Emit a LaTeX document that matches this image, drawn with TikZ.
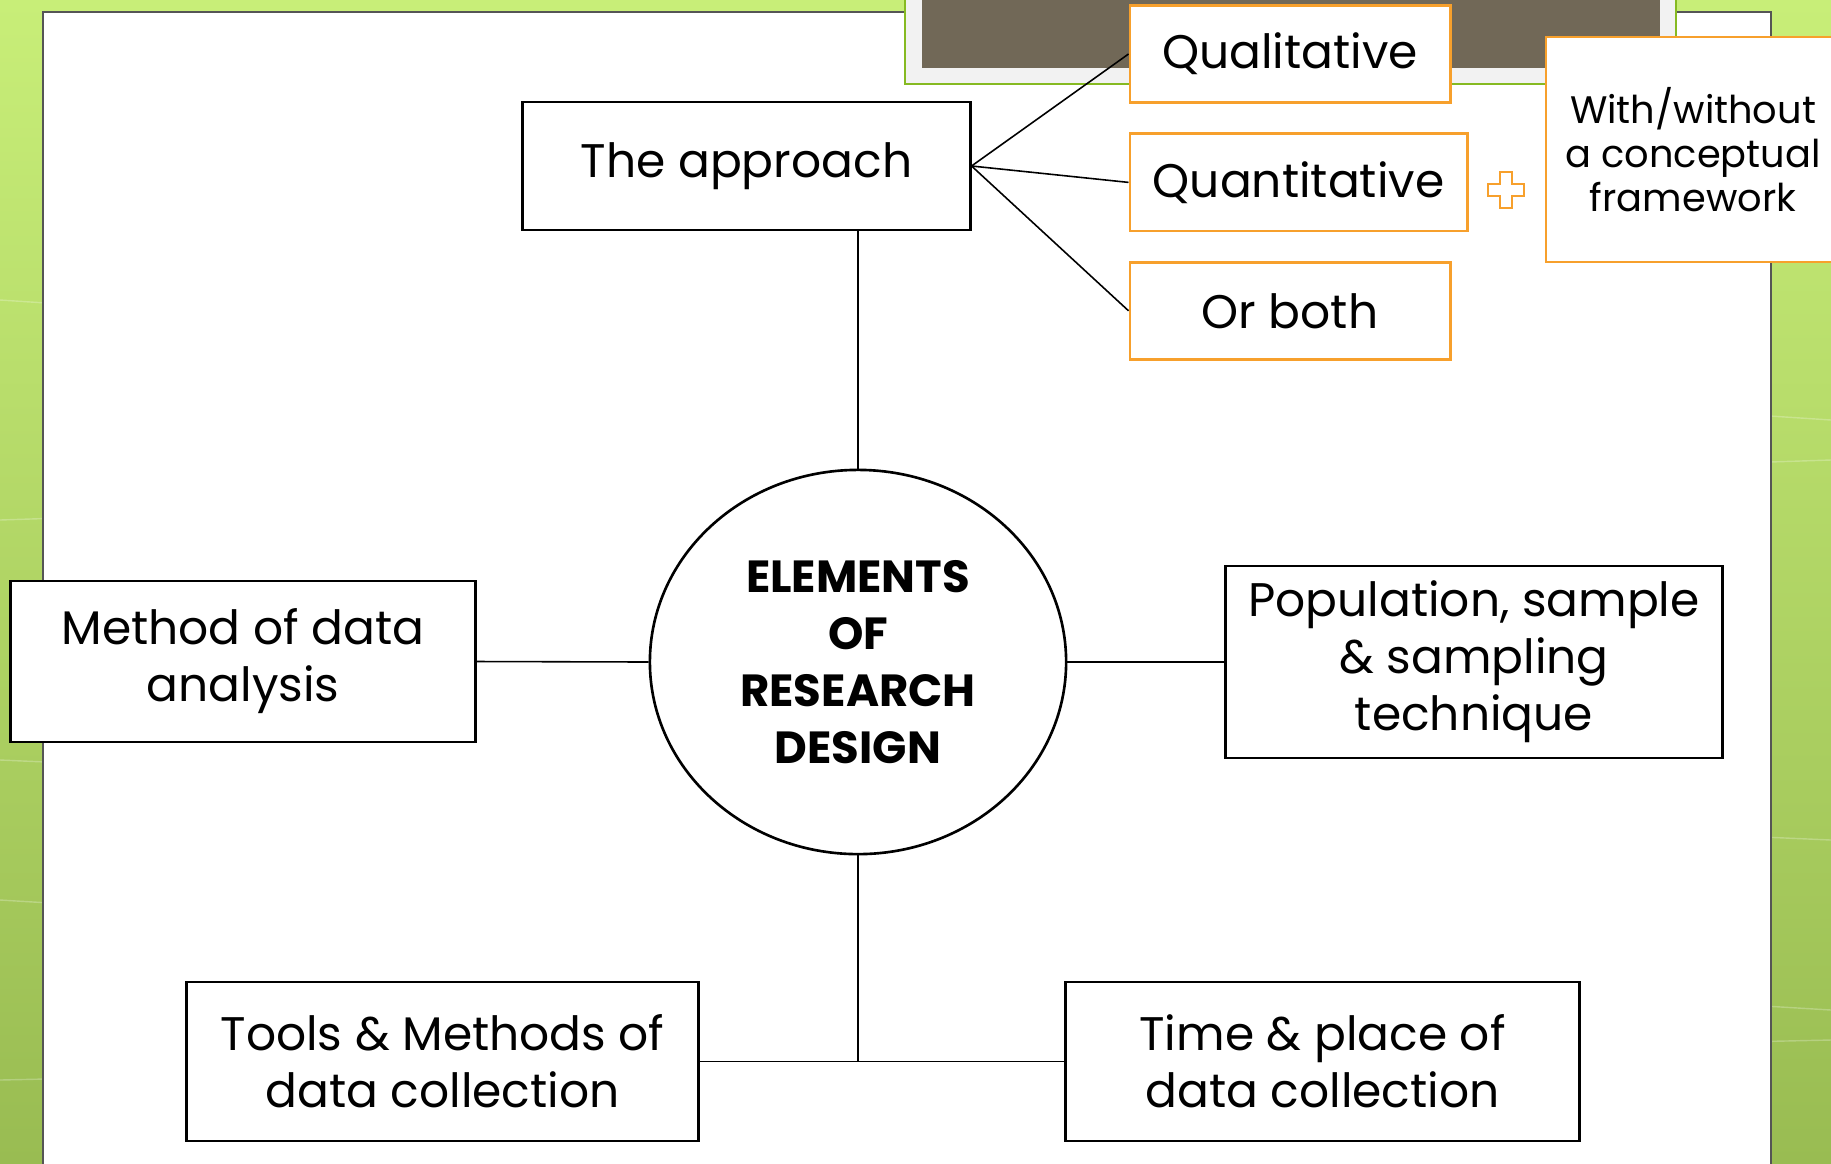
\documentclass[tikz,border=0pt]{standalone}
\usepackage{fontspec}
\setmainfont{Poppins}
\usepackage{xcolor}
\definecolor{leaf}{HTML}{C8EE78}
\definecolor{moss}{HTML}{99BC52}
\definecolor{rim}{HTML}{555555}
\definecolor{choice}{HTML}{F7A02C}
\definecolor{photo}{HTML}{716857}
\definecolor{mat}{HTML}{F2F2F2}
\definecolor{fern}{HTML}{86BA22}
\usepackage{tikz}
\usetikzlibrary{shapes.geometric, positioning}

\begin{document}
\begin{tikzpicture}[x=0.01cm, y=-0.01cm,
  box/.style={draw=black, line width=0.8pt, fill=white, align=center,
    inner sep=0pt, font=\fontsize{13.4}{16.2}\selectfont},
  choice box/.style={draw=choice, line width=0.8pt, fill=white, align=center,
    inner sep=0pt, minimum height=0.97cm, font=\fontsize{13.4}{16.2}\selectfont},
  link/.style={line width=0.45pt}]

  \useasboundingbox (0,0) rectangle (1831,1163);

  % slide background and white panel
  \shade[top color=leaf, bottom color=moss] (0,0) rectangle (1831,1163);
  \foreach \ya/\yb in {300/420, 520/460, 760/840, 900/1010, 1080/1040}
    \draw[white, opacity=0.25, line width=0.4pt] (0,\ya) -- (1831,\yb);
  \fill[white] (43,12) rectangle (1771,1170);
  \draw[rim, line width=0.6pt] (43,1170) -- (43,12) -- (1771,12) -- (1771,1170);

  % picture frame at the top
  \fill[mat] (905,-10) rectangle (1676,84);
  \draw[fern, line width=0.7pt] (905,-10) -- (905,84) -- (1676,84) -- (1676,-10);
  \fill[photo] (922,-10) rectangle (1660,68);

  % centre
  \node[draw, ellipse, line width=0.75pt, fill=white, minimum width=4.16cm,
        minimum height=3.84cm, align=center, inner sep=0pt,
        font=\fontsize{12.8}{16.2}\selectfont\bfseries] (core) at (858,662)
        {ELEMENTS\\OF\\RESEARCH\\DESIGN};

  \node[box, minimum width=4.47cm, minimum height=1.28cm] (approach)
        at (746.5,166) {The approach};
  \node[box, minimum width=4.65cm, minimum height=1.61cm] (analysis)
        at (243,661.5) {Method of data\\analysis};
  \node[box, minimum width=4.96cm, minimum height=1.92cm] (population)
        at (1474,662) {Population, sample\\\& sampling\\technique};
  \node[box, minimum width=5.11cm, minimum height=1.59cm] (tools)
        at (442.5,1061.5) {Tools \& Methods of\\data collection};
  \node[box, minimum width=5.13cm, minimum height=1.59cm] (timeplace)
        at (1322.5,1061.5) {Time \& place of\\data collection};

  % kinds of approach
  \node[choice box, minimum width=3.2cm] (qual) at (1290,54) {Qualitative};
  \node[choice box, minimum width=3.37cm, below=0.285cm of qual.south west,
        anchor=north west] (quant) {Quantitative};
  \node[choice box, minimum width=3.2cm, below=0.285cm of quant.south west,
        anchor=north west] (both) {Or both};
  \node[choice box, minimum width=2.94cm, minimum height=2.25cm,
        font=\fontsize{10.9}{12.6}\selectfont] (framework) at (1693,149.5)
        {With/without\\a conceptual\\framework};

  \draw[choice, line width=0.7pt, fill=white, shift={(1506,190)}]
    (-6,-18) -- (6,-18) -- (6,-6) -- (18,-6) -- (18,6) -- (6,6) -- (6,18)
    -- (-6,18) -- (-6,6) -- (-18,6) -- (-18,-6) -- (-6,-6) -- cycle;

  % connectors
  \draw[link] (core.north) -- (core.north |- approach.south);
  \draw[link] (approach.east) -- (qual.west);
  \draw[link] (approach.east) -- (quant.west);
  \draw[link] (approach.east) -- (both.west);
  \draw[link] (analysis.east) -- (core.west);
  \draw[link] (core.east) -- (population.west);
  \draw[link] (core.south) |- (tools.east);
  \draw[link] (core.south) |- (timeplace.west);

\end{tikzpicture}
\end{document}
